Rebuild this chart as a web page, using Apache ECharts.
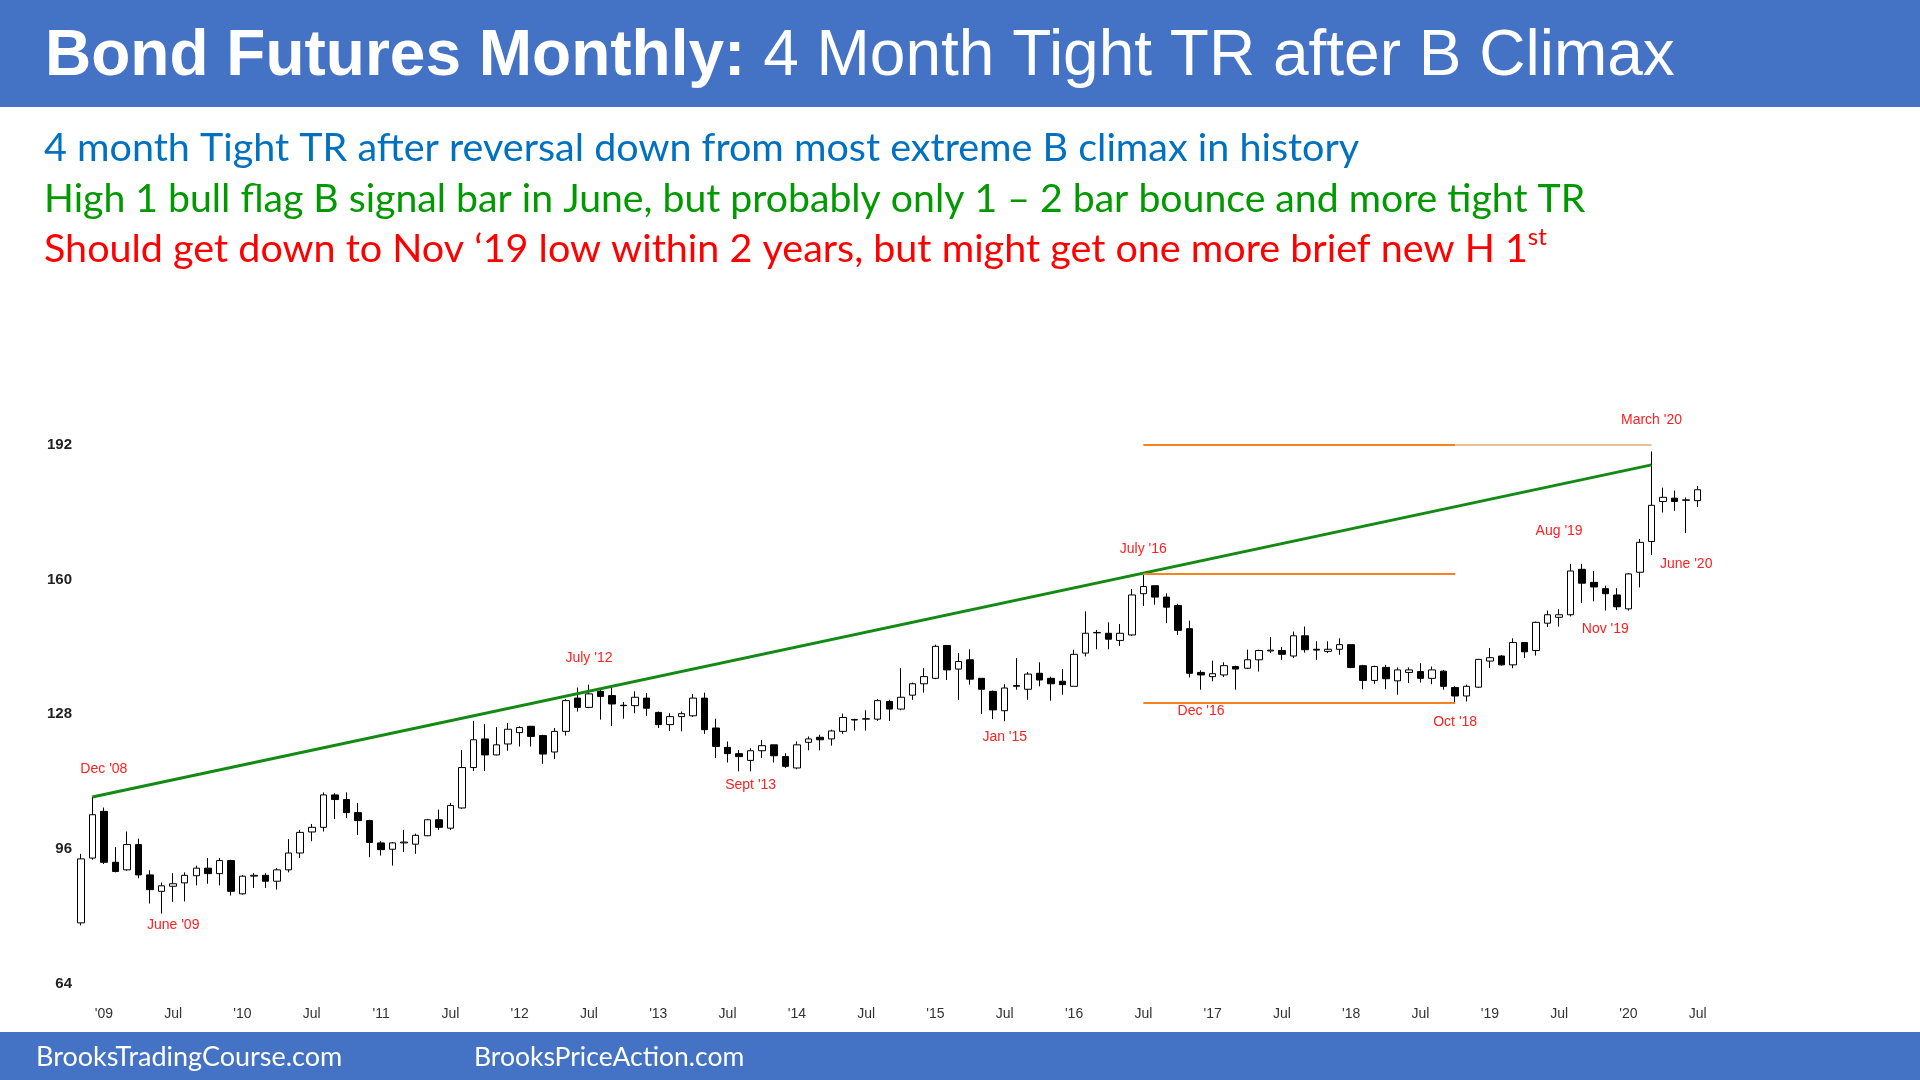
<!DOCTYPE html>
<html>
<head>
<meta charset="utf-8">
<title>Bond Futures Monthly</title>
<script src="https://cdn.jsdelivr.net/npm/echarts@6/dist/echarts.min.js"></script>
<style>
  html, body { margin: 0; padding: 0; background: #fff; }
  #chart { width: 1920px; height: 1080px; }
</style>
</head>
<body>
<div id="chart"></div>
<script>
// monthly bars, first one is Nov 2008, last one Jul 2020
const firstYear = 2008
const firstMonth = 11

const opens = [
  78.4, 93.8,
  104.9, 92.8, 91.0, 97.0, 89.8, 85.9, 87.1, 87.9, 89.6, 91.4, 90.1, 93.2,
  85.3, 89.5, 89.7, 88.3, 91.0, 95.0, 100.0, 101.1, 108.8, 107.7, 104.6, 102.7,
  97.4, 95.9, 97.4, 97.1, 99.1, 102.9, 100.9, 105.7, 115.3, 122.1, 118.3, 120.9,
  123.6, 125.1, 122.9, 119.0, 123.9, 131.8, 129.6, 133.4, 132.4, 130.1, 130.0, 131.8,
  128.4, 125.5, 127.4, 127.6, 131.8, 124.7, 120.1, 118.6, 117.0, 119.3, 120.7, 117.9,
  115.2, 121.3, 122.5, 122.1, 123.9, 126.7, 126.8, 126.8, 131.0, 129.2, 132.5, 135.2,
  136.5, 144.3, 138.7, 140.9, 136.5, 133.4, 128.8, 134.6, 133.9, 137.7, 136.5, 135.8,
  134.6, 142.5, 147.3, 147.2, 145.5, 146.8, 156.6, 158.5, 155.8, 153.8, 148.3, 137.9,
  136.9, 137.3, 139.3, 138.9, 140.9, 143.0, 143.1, 141.8, 146.6, 143.4, 142.9, 143.4,
  144.5, 139.5, 136.0, 139.1, 135.9, 137.9, 138.1, 136.5, 138.2, 134.3, 132.3, 134.4,
  140.6, 141.8, 139.7, 145.0, 143.1, 149.6, 151.0, 151.6, 162.4, 159.3, 157.8, 156.3,
  153.0, 161.7, 169.0, 178.5, 179.3, 178.8, 178.7
]
const closes = [
  93.6, 104.1,
  92.8, 90.6, 97.0, 89.8, 86.3, 87.2, 87.7, 89.7, 91.4, 90.1, 93.2, 85.9,
  89.5, 89.7, 88.3, 91.0, 95.0, 99.9, 101.1, 108.8, 107.7, 104.6, 102.7, 97.5,
  95.8, 97.4, 97.6, 99.2, 102.9, 101.1, 106.3, 115.3, 121.9, 118.3, 120.7, 124.4,
  124.8, 122.7, 118.5, 123.9, 131.2, 129.6, 132.8, 132.2, 130.4, 130.0, 132.0, 129.4,
  125.5, 127.4, 128.1, 131.8, 124.3, 120.3, 118.6, 117.9, 119.3, 120.5, 118.1, 115.6,
  120.7, 122.1, 121.9, 124.0, 127.2, 126.6, 126.9, 131.2, 129.2, 132.0, 135.2, 136.9,
  144.1, 138.5, 140.5, 136.3, 133.9, 129.0, 134.2, 134.8, 137.5, 136.1, 135.2, 135.0,
  142.2, 147.2, 147.4, 145.8, 147.2, 156.3, 158.3, 155.8, 153.4, 147.9, 137.7, 137.3,
  137.6, 139.5, 138.7, 140.9, 143.1, 143.2, 142.2, 146.6, 143.3, 143.2, 143.4, 144.5,
  139.1, 136.0, 139.3, 136.4, 138.5, 138.5, 136.5, 138.5, 134.6, 132.3, 134.6, 141.0,
  141.4, 139.7, 145.0, 142.8, 149.8, 151.6, 151.6, 162.0, 159.1, 158.2, 156.6, 153.5,
  161.3, 168.8, 177.6, 179.5, 178.5, 178.9, 181.3
]
const lows = [
  77.8, 93.4,
  92.4, 90.4, 90.8, 89.0, 83.0, 80.6, 83.4, 83.5, 87.3, 87.7, 87.3, 84.9,
  85.1, 86.7, 86.7, 86.3, 90.4, 93.8, 97.8, 100.1, 103.1, 103.3, 99.3, 94.0,
  94.4, 92.0, 95.2, 94.8, 99.0, 100.5, 100.5, 105.5, 114.5, 114.5, 118.2, 119.3,
  120.3, 120.3, 116.2, 117.3, 122.9, 128.6, 129.4, 126.7, 125.2, 126.9, 128.2, 127.6,
  124.7, 124.0, 123.9, 127.3, 123.3, 117.6, 116.5, 114.4, 114.4, 117.6, 116.5, 115.2,
  114.9, 119.4, 119.4, 120.5, 123.3, 124.1, 124.1, 126.4, 126.4, 128.9, 131.4, 133.1,
  136.3, 136.1, 131.4, 135.0, 128.0, 126.8, 126.3, 133.8, 131.4, 134.6, 131.2, 132.6,
  134.6, 141.7, 143.4, 143.4, 144.2, 146.6, 153.7, 154.0, 149.6, 146.8, 136.7, 133.8,
  135.8, 136.8, 133.8, 138.7, 138.1, 142.5, 140.9, 141.3, 142.6, 140.9, 142.5, 142.1,
  138.9, 133.9, 135.2, 133.9, 132.6, 135.4, 135.5, 135.1, 133.8, 130.8, 131.0, 134.2,
  138.9, 139.5, 138.9, 141.3, 141.9, 148.7, 148.8, 151.2, 154.4, 154.8, 152.6, 152.7,
  152.6, 158.1, 165.8, 175.9, 176.3, 171.0, 177.2
]
const highs = [
  94.8, 108.3,
  105.8, 96.4, 100.1, 98.4, 90.9, 88.0, 90.2, 90.4, 92.0, 93.8, 93.8, 93.4,
  89.8, 90.2, 90.2, 91.4, 98.3, 100.5, 101.9, 109.4, 109.2, 109.4, 106.9, 102.9,
  97.8, 97.6, 100.5, 99.6, 103.1, 105.3, 106.9, 119.5, 126.4, 125.6, 124.9, 125.9,
  125.1, 125.2, 123.1, 124.7, 131.6, 134.3, 135.0, 133.9, 134.6, 130.9, 133.4, 133.0,
  128.6, 128.2, 128.6, 132.8, 133.1, 126.9, 121.5, 119.5, 119.9, 121.9, 120.7, 118.7,
  121.5, 122.7, 123.1, 124.3, 128.1, 126.9, 128.9, 131.6, 131.4, 138.9, 135.5, 138.9,
  144.5, 144.3, 142.5, 143.4, 136.5, 133.6, 135.1, 141.3, 138.0, 140.3, 136.9, 138.7,
  143.3, 152.4, 148.0, 149.8, 149.4, 157.7, 161.1, 158.5, 156.7, 154.2, 150.2, 138.4,
  140.7, 140.3, 139.5, 143.3, 143.3, 146.3, 143.9, 147.6, 148.8, 145.3, 145.3, 146.0,
  144.5, 139.7, 139.5, 139.7, 139.1, 139.1, 140.1, 139.3, 138.5, 134.6, 135.0, 141.1,
  143.7, 142.0, 146.0, 145.0, 150.0, 152.6, 152.9, 163.7, 163.7, 162.0, 158.5, 157.9,
  161.5, 169.6, 190.4, 181.8, 181.1, 179.5, 182.2
]

// [bar index, value] end points
const trendLine = [[1, 108.3], [136, 187.2]]
// [from index, to index, level]
const rangeLines = [[92, 119, 192], [92, 119, 161.3], [92, 119, 130.8]]
const extendLine = [119, 136, 192]

// red bar notes: [text, bar index, value]
const notes = [
  ["Dec '08", 2, 115.0],
  ["June '09", 8, 77.9],
  ["July '12", 44, 141.4],
  ["Sept '13", 58, 111.2],
  ["Jan '15", 80, 122.6],
  ["July '16", 92, 167.3],
  ["Dec '16", 97, 128.7],
  ["Oct '18", 119, 126.1],
  ["Aug '19", 128, 171.4],
  ["Nov '19", 132, 148.2],
  ["March '20", 136, 197.9],
  ["June '20", 139, 163.6]
]

const yTicks = [64, 96, 128, 160, 192]

const titleBold = 'Bond Futures Monthly:'
const titleRest = '4 Month Tight TR after B Climax'
const line1 = '4 month Tight TR after reversal down from most extreme B climax in history'
const line2 = 'High 1 bull flag B signal bar in June, but probably only 1 \u2013 2 bar bounce and more tight TR'
const line3 = 'Should get down to Nov \u201819 low within 2 years, but might get one more brief new H 1'
const footer = ['BrooksTradingCourse.com', 'BrooksPriceAction.com']

let months = []
for (let i = 0; i < opens.length; i++) {
  let k = firstMonth - 1 + i
  months.push((firstYear + Math.floor(k / 12)) + '-' + String(k % 12 + 1).padStart(2, '0'))
}
let bars = opens.map((o, i) => [o, closes[i], lows[i], highs[i]])

const BLUE = '#4472C4'
const bodyFont = 'Lato'
const chartFont = '"Liberation Sans", Arial, sans-serif'

let lineData = [[
  { coord: trendLine[0], lineStyle: { color: '#138A13', width: 3, type: 'solid' } },
  { coord: trendLine[1] }
]]
rangeLines.forEach(r => {
  lineData.push([
    { coord: [r[0], r[2]], lineStyle: { color: '#F5831F', width: 2, type: 'solid' } },
    { coord: [r[1], r[2]] }
  ])
})
lineData.push([
  { coord: [extendLine[0], extendLine[2]], lineStyle: { color: '#E6C293', width: 2, type: 'solid' } },
  { coord: [extendLine[1], extendLine[2]] }
])

let chart = echarts.init(document.getElementById('chart'))
chart.setOption({
  animation: false,
  backgroundColor: '#fff',
  grid: { left: 75, right: 216.5, top: 310, bottom: 96.5 },
  xAxis: {
    type: 'category',
    data: months,
    boundaryGap: true,
    axisLine: { show: false },
    axisTick: { show: false },
    splitLine: { show: false },
    axisLabel: {
      margin: 24,
      color: '#333',
      fontSize: 14,
      fontFamily: chartFont,
      interval: (i, v) => v.endsWith('-01') || v.endsWith('-07'),
      formatter: v => v.endsWith('-07') ? 'Jul' : "'" + v.slice(2, 4)
    }
  },
  yAxis: {
    type: 'value',
    min: 64,
    max: 224,
    interval: 32,
    axisLine: { show: false },
    axisTick: { show: false },
    splitLine: { show: false },
    axisLabel: {
      margin: 3,
      color: '#222',
      fontSize: 15,
      fontWeight: 'bold',
      fontFamily: chartFont,
      formatter: v => yTicks.indexOf(v) >= 0 ? String(v) : ''
    }
  },
  series: [{
    type: 'candlestick',
    data: bars,
    barWidth: 7,
    itemStyle: {
      color: '#ffffff',
      color0: '#000000',
      borderColor: '#000000',
      borderColor0: '#000000',
      borderWidth: 1
    },
    markLine: {
      silent: true,
      symbol: ['none', 'none'],
      label: { show: false },
      lineStyle: { type: 'solid' },
      data: lineData
    },
    markPoint: {
      silent: true,
      symbol: 'circle',
      symbolSize: 0,
      label: {
        show: true,
        position: 'inside',
        color: '#FF2020',
        fontSize: 14,
        fontFamily: chartFont,
        formatter: p => p.name
      },
      data: notes.map(n => ({ name: n[0], coord: [n[1], n[2]] }))
    }
  }],
  graphic: [
    { type: 'rect', shape: { x: 0, y: 0, width: 1920, height: 107 }, style: { fill: BLUE }, silent: true },
    { type: 'rect', shape: { x: 0, y: 1032, width: 1920, height: 48 }, style: { fill: BLUE }, silent: true },
    {
      type: 'text', x: 45, y: 57, silent: true,
      style: {
        text: '{b|' + titleBold + '} {r|' + titleRest + '}',
        verticalAlign: 'middle',
        fill: '#fff',
        fontSize: 64,
        fontFamily: chartFont,
        rich: {
          b: { fill: '#fff', fontSize: 64, fontWeight: 'bold', fontFamily: chartFont },
          r: { fill: '#fff', fontSize: 64, fontFamily: chartFont }
        }
      }
    },
    { type: 'text', x: 44, y: 148.5, silent: true,
      style: { text: line1, fill: '#0070C0', fontSize: 39.5, fontFamily: bodyFont, verticalAlign: 'middle' } },
    { type: 'text', x: 44, y: 199.5, silent: true,
      style: { text: line2, fill: '#009A00', fontSize: 39.2, fontFamily: bodyFont, verticalAlign: 'middle' } },
    {
      type: 'text', x: 44, y: 249.5, silent: true,
      style: {
        text: '{n|' + line3 + '}{s|st}',
        fill: '#FF0000',
        verticalAlign: 'middle',
        fontSize: 39.5,
        fontFamily: bodyFont,
        rich: {
          n: { fill: '#FF0000', fontSize: 39.5, fontFamily: bodyFont, lineHeight: 48 },
          s: { fill: '#FF0000', fontSize: 24, fontFamily: bodyFont, verticalAlign: 'top', lineHeight: 25 }
        }
      }
    },
    { type: 'text', x: 36, y: 1057, silent: true,
      style: { text: footer[0], fill: '#fff', fontSize: 27, fontFamily: bodyFont, verticalAlign: 'middle' } },
    { type: 'text', x: 474, y: 1057, silent: true,
      style: { text: footer[1], fill: '#fff', fontSize: 26.5, fontFamily: bodyFont, verticalAlign: 'middle' } }
  ]
})
</script>
</body>
</html>
